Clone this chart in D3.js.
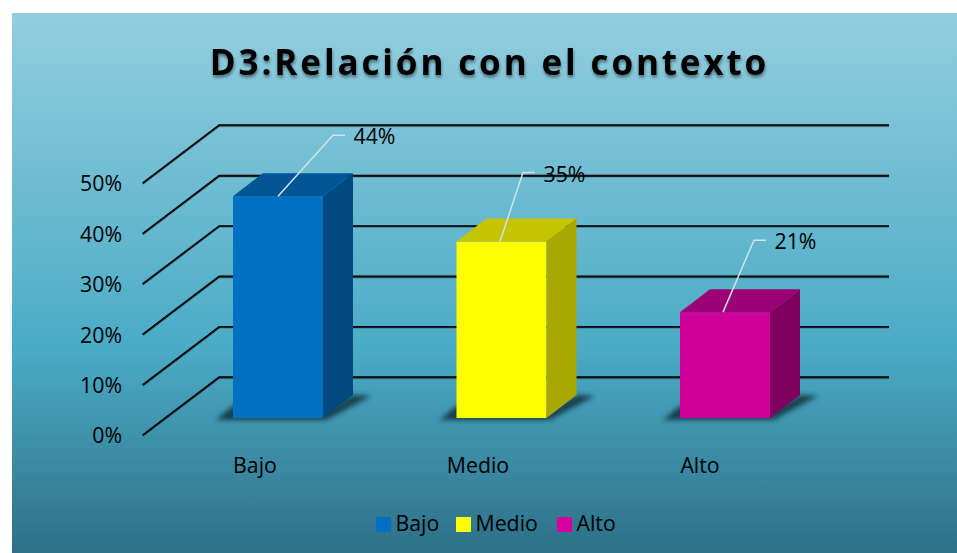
<!DOCTYPE html>
<html><head><meta charset="utf-8">
<script src="https://cdn.jsdelivr.net/npm/d3@7"></script>
<style>html,body{margin:0;padding:0;background:#fff}svg{display:block}text{font-family:"Open Sans","Noto Sans",sans-serif;fill:#000}</style>
</head><body><div id="c"></div>
<script>
const chartTitle = "D3:Relación con el contexto";
const categories = ["Bajo","Medio","Alto"];
const values = [44,35,21];
const tickValues = [0,10,20,30,40,50];
const frontColors = ["#0070c0","#ffff00","#cc0099"];
const topColors = ["#005694","#c4c400","#9d0076"];
const sideColors = ["#004a80","#a8a800","#800060"];
const legendColors = ["#0070c0","#ffff00","#d4009f"];
const leaderBend = [[55,-61],[23,-69],[31,-72]];
const catLabelX = [255,478,700];
const legendX = [376,456,557];

const W=957,H=553,FS="21.3px";
const svg=d3.select("#c").append("svg").attr("width",W).attr("height",H);
const defs=svg.append("defs");
const g=defs.append("linearGradient").attr("id","bg").attr("x1",0).attr("x2",0).attr("y1",0).attr("y2",1);
[[0,"#93cedf"],[0.62,"#4babc6"],[1,"#2e7088"]].forEach(s=>g.append("stop").attr("offset",s[0]).attr("stop-color",s[1]));
const ds=defs.append("filter").attr("id","ts").attr("x","-10%").attr("y","-20%").attr("width","120%").attr("height","150%");
ds.append("feDropShadow").attr("dx",0.5).attr("dy",2.5).attr("stdDeviation",1.5).attr("flood-color","#000").attr("flood-opacity",0.45);
const bl=defs.append("filter").attr("id","blur").attr("x","-30%").attr("y","-60%").attr("width","160%").attr("height","220%");
bl.append("feGaussianBlur").attr("stdDeviation",2.6);
const gs=defs.append("filter").attr("id","gridShadow").attr("x","-5%").attr("y","-5%").attr("width","110%").attr("height","110%");
gs.append("feDropShadow").attr("dx",0).attr("dy",0.6).attr("stdDeviation",0.6).attr("flood-color","#000").attr("flood-opacity",0.35);

svg.append("rect").attr("x",12).attr("y",13).attr("width",W-12).attr("height",H-13).attr("fill","url(#bg)");

svg.append("text").attr("x",489.5).attr("y",74.5).attr("text-anchor","middle")
  .style("font-size","35px").style("font-weight",700)
  .style("letter-spacing","2.87px").attr("filter","url(#ts)").text(chartTitle);

const yFront=d3.scaleLinear().domain([0,50]).range([435.3,183.3]);
const depthX=76.5, depthY=-58, frontX=142.7, backEnd=889;
const gridG=svg.append("g").attr("fill","none").attr("stroke","#080808").attr("stroke-width",1.9).attr("filter","url(#gridShadow)");
tickValues.forEach(t=>{
  const y=yFront(t);
  gridG.append("path").attr("d",d3.line()([[frontX,y],[frontX+depthX,y+depthY],[backEnd,y+depthY]]));
});
svg.append("g").selectAll("text").data(tickValues).join("text")
  .attr("x",122).attr("y",d=>yFront(d)+8).attr("text-anchor","end").style("font-size",FS)
  .text(d=>d+"%");

const x=d3.scalePoint().domain(categories).range([278,725]);
const barH=d3.scaleLinear().domain([0,50]).range([418,166]);
const bw=90, dx=30, dy=-23;
const bars=svg.append("g");
categories.forEach((c,i)=>{
  const cx=x(c), l=cx-bw/2, r=cx+bw/2, b=barH(0), t=barH(values[i]);
  bars.append("path").attr("d",d3.line()([[l-17,b+2],[r+3,b+2],[r+dx+18,b+dy+1],[r+dx,b+dy],[r,b-5],[l,b-12]])+"Z")
    .attr("fill","#0a2a35").attr("opacity",0.82).attr("filter","url(#blur)");
  bars.append("rect").attr("x",l).attr("y",t).attr("width",bw).attr("height",b-t).attr("fill",frontColors[i]);
  bars.append("path").attr("d",d3.line()([[l,t],[l+dx,t+dy],[r+dx,t+dy],[r,t]])+"Z").attr("fill",topColors[i]);
  bars.append("path").attr("d",d3.line()([[r,t],[r+dx,t+dy],[r+dx,b+dy],[r,b]])+"Z").attr("fill",sideColors[i]);
  const sx=[cx,cx-1.5,cx-2][i];
  const px=sx+leaderBend[i][0], py=t+leaderBend[i][1];
  bars.append("path").attr("d",d3.line()([[sx,t],[px,py],[px+12,py]])).attr("fill","none").attr("stroke","#cfe3e9").attr("stroke-width",1.5);
  bars.append("text").attr("x",px+20.5).attr("y",py+9).style("font-size",FS).text(values[i]+"%");
  svg.append("text").attr("x",catLabelX[i]).attr("y",473).attr("text-anchor","middle").style("font-size",FS).text(c);
});

const leg=svg.append("g");
categories.forEach((c,i)=>{
  leg.append("rect").attr("x",legendX[i]).attr("y",517).attr("width",15).attr("height",15).attr("fill",legendColors[i]);
  leg.append("text").attr("x",legendX[i]+19.5).attr("y",531).style("font-size",FS).text(c);
});
</script></body></html>
